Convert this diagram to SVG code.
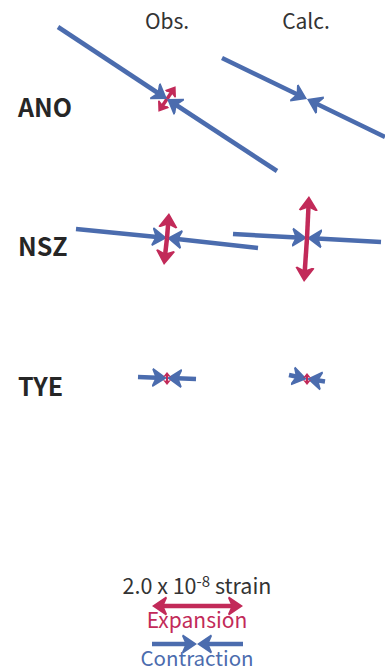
<svg xmlns="http://www.w3.org/2000/svg" width="385" height="670" viewBox="0 0 385 670">
<style>
text{font-family:"Noto Sans CJK JP","Noto Sans",sans-serif}
.h{font-size:21px;fill:#333;text-anchor:middle}
.l{font-size:25px;font-weight:700;fill:#262626}
.b,.r{fill:none;stroke-width:4.5}
.b{stroke:#4b6cae;marker-end:url(#mb)}
.r{stroke:#c22a59;marker-end:url(#mr)}
.m{stroke-width:3.5;marker-end:url(#mm)}
.s{stroke-width:2;marker-end:url(#ms)}
.bt{fill:#4b6cae}.rt{fill:#c22a59}
</style>
<defs>
<marker id="mb" markerUnits="userSpaceOnUse" markerWidth="20" markerHeight="20" refX="5" refY="10" orient="auto" viewBox="0 0 20 20"><path d="M15 10L1 0.5L0 2L3.5 10L0 18L1 19.5Z" fill="#4b6cae"/></marker>
<marker id="mr" markerUnits="userSpaceOnUse" markerWidth="20" markerHeight="20" refX="5" refY="10" orient="auto" viewBox="0 0 20 20"><path d="M15 10L1 0.5L0 2L3.5 10L0 18L1 19.5Z" fill="#c22a59"/></marker>
<marker id="mm" markerUnits="userSpaceOnUse" markerWidth="12" markerHeight="14" refX="3" refY="7" orient="auto" viewBox="0 0 12 14"><path d="M10 7L1 0.5L0 1.5L2 7L0 12.5L1 13.5Z" fill="#c22a59"/></marker>
<marker id="ms" markerUnits="userSpaceOnUse" markerWidth="9" markerHeight="9" refX="2" refY="4.5" orient="auto" viewBox="0 0 9 9"><path d="M5 4.5L0 0.5L1 4.5L0 8.5Z" fill="#c22a59"/></marker>
</defs>
<text class="h" x="167" y="29">Obs.</text>
<text class="h" x="306" y="29">Calc.</text>
<g id="labels">
<text class="l" x="18" y="117">ANO</text>
<text class="l" x="18" y="256">NSZ</text>
<text class="l" x="18" y="396">TYE</text>
</g>
<g id="ano-obs">
<path class="r m" d="M167 99L171.7 92"/><path class="r m" d="M167 99L162.3 106"/>
<path class="b" d="M58 27L158.7 93.5"/><path class="b" d="M277 171L175.4 104.5"/>
</g>
<g id="ano-calc">
<path class="b" d="M222 58L298 94.7"/><path class="b" d="M385 137L316 103.4"/>
</g>
<g id="nsz-obs">
<path class="b" d="M76 229L157 237"/><path class="b" d="M258 248L177 239.1"/>
<path class="r" d="M167 238L168.2 223"/><path class="r" d="M167 238L165.1 255"/>
</g>
<g id="nsz-calc">
<path class="b" d="M233 234L297 237.5"/><path class="b" d="M381 242L317 238.5"/>
<path class="r" d="M307 238L308.5 206"/><path class="r" d="M307 238L304.7 272"/>
</g>
<g id="tye-obs">
<path class="b" d="M138 377L157 377.7"/><path class="b" d="M196 379L177 378.3"/>
<path class="r s" d="M167 378L167 375"/><path class="r s" d="M167 378L167 382"/>
</g>
<g id="tye-calc">
<path class="b" d="M289 375L297.2 376.8"/><path class="b" d="M325 381.5L317 380.3"/>
<path class="r s" d="M307 379L307 376"/><path class="r s" d="M307 379L307 382"/>
</g>
<g id="legend">
<text class="h" x="197" y="594" style="font-size:21.5px">2.0 x 10<tspan style="font-size:15px" dy="-7">-8</tspan><tspan dy="7"> strain</tspan></text>
<path class="r" d="M197 606L233 606"/><path class="r" d="M197 606L162 606"/>
<text class="rt" x="197" y="628" font-size="21" text-anchor="middle">Expansion</text>
<path class="b" d="M152 644L187 644"/><path class="b" d="M243 644L207 644"/>
<text class="bt" x="197" y="666" font-size="20.5" text-anchor="middle">Contraction</text>
</g>
</svg>
